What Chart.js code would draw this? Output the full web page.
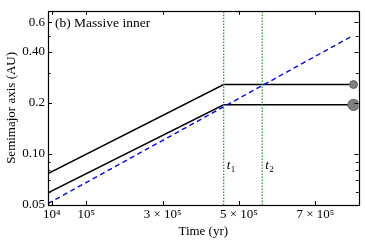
<!DOCTYPE html>
<html>
<head>
<meta charset="utf-8">
<script src="https://cdn.jsdelivr.net/npm/chart.js@4"></script>
<style>
  html, body { margin: 0; padding: 0; background: #fff; }
  #wrap { width: 365px; height: 242px; }
</style>
</head>
<body>
<div id="wrap"><canvas id="orbitChart" width="365" height="242"></canvas></div>
<script>
// --- datos ---
const timeYr = [0, 4.6e5, 8.0e5];
const outerAU = [0.0766, 0.257, 0.257];
const innerAU = [0.059, 0.195, 0.195];

const edgeTime = [0, 7.95e5];
const edgeAU = [0.051, 0.495];

const t1 = 4.6e5;
const t2 = 5.61e5;

const xTicks = [1e4, 1e5, 3e5, 5e5, 7e5];
const xTickLabels = ['10⁴', '10⁵', '3 × 10⁵', '5 × 10⁵', '7 × 10⁵'];
const yTicks = [0.05, 0.1, 0.2, 0.4, 0.6];
const yTickLabels = ['0.05', '0.10', '0.2', '0.40', '0.6'];
const yMinorTicks = [0.06, 0.07, 0.08, 0.09, 0.3, 0.5, 0.7];

const yMin = 0.05, yMax = 0.7;
const xMin = 0, xMax = 8.13e5;

const serif = '"Liberation Serif", "DejaVu Serif", serif';

const toPoints = (xs, ys) => xs.map((x, i) => ({ x: x, y: ys[i] }));

// marco, marcas hacia dentro y textos
const framePlugin = {
    id: 'frame',
    afterDraw(chart) {
        const ctx = chart.ctx;
        const a = chart.chartArea;
        const xs = chart.scales.x;
        const ys = chart.scales.y;
        ctx.save();
        ctx.strokeStyle = '#000';
        ctx.lineWidth = 1;
        ctx.beginPath();
        xTicks.forEach(v => {
            const px = Math.round(xs.getPixelForValue(v)) + 0.5;
            ctx.moveTo(px, a.bottom); ctx.lineTo(px, a.bottom - 4);
            ctx.moveTo(px, a.top); ctx.lineTo(px, a.top + 4);
        });
        yTicks.concat(yMinorTicks).forEach(v => {
            const py = Math.round(ys.getPixelForValue(v)) + 0.5;
            const len = yTicks.includes(v) ? 4 : 2.5;
            ctx.moveTo(a.left, py); ctx.lineTo(a.left + len, py);
            ctx.moveTo(a.right, py); ctx.lineTo(a.right - len, py);
        });
        ctx.stroke();
        ctx.lineWidth = 1.2;
        ctx.strokeRect(Math.round(a.left) + 0.5, Math.round(a.top) + 0.5,
                       Math.round(a.right - a.left), Math.round(a.bottom - a.top));

        // título del panel
        ctx.fillStyle = '#000';
        ctx.font = '13.5px ' + serif;
        ctx.textBaseline = 'alphabetic';
        ctx.textAlign = 'left';
        ctx.fillText('(b) Massive inner', a.left + 7, a.top + 16);

        // etiquetas t1, t2
        [[t1, '1'], [t2, '2']].forEach(([t, sub]) => {
            const px = xs.getPixelForValue(t) + 3;
            const py = 169;
            ctx.font = 'italic 13px ' + serif;
            ctx.fillText('t', px, py);
            const w = ctx.measureText('t').width;
            ctx.font = '9px ' + serif;
            ctx.fillText(sub, px + w + 0.5, py + 3);
        });
        ctx.restore();
    }
};

new Chart(document.getElementById('orbitChart').getContext('2d'), {
    type: 'line',
    data: {
        datasets: [
            {
                label: 't1',
                data: [{ x: t1, y: yMin }, { x: t1, y: yMax }],
                borderColor: '#2ca02c',
                borderWidth: 1.3,
                borderDash: [1.5, 1.5],
                pointRadius: 0
            },
            {
                label: 't2',
                data: [{ x: t2, y: yMin }, { x: t2, y: yMax }],
                borderColor: '#2ca02c',
                borderWidth: 1.3,
                borderDash: [1.5, 1.5],
                pointRadius: 0
            },
            {
                label: 'Borde',
                data: toPoints(edgeTime, edgeAU),
                borderColor: '#0000ff',
                borderWidth: 1.4,
                borderDash: [5, 3.5],
                pointRadius: 0
            },
            {
                label: 'Exterior',
                data: toPoints(timeYr, outerAU),
                borderColor: '#000',
                borderWidth: 1.5,
                pointRadius: [0, 0, 4],
                pointBackgroundColor: '#808080',
                pointBorderColor: '#555',
                pointBorderWidth: 0.8
            },
            {
                label: 'Interior',
                data: toPoints(timeYr, innerAU),
                borderColor: '#000',
                borderWidth: 1.5,
                pointRadius: [0, 0, 5.7],
                pointBackgroundColor: '#808080',
                pointBorderColor: '#555',
                pointBorderWidth: 0.8
            }
        ]
    },
    options: {
        responsive: false,
        animation: false,
        layout: { padding: { top: 5, right: 5, left: 0, bottom: 0 } },
        plugins: {
            legend: { display: false },
            tooltip: { enabled: false }
        },
        scales: {
            x: {
                type: 'linear',
                min: xMin,
                max: xMax,
                grid: { display: false, drawTicks: false },
                border: { display: false },
                afterBuildTicks: (scale) => { scale.ticks = xTicks.map(v => ({ value: v })); },
                afterFit: (scale) => { scale.height = 37; },
                ticks: {
                    autoSkip: false,
                    maxRotation: 0,
                    padding: 2,
                    color: '#000',
                    font: { family: serif, size: 13 },
                    callback: (v) => xTickLabels[xTicks.indexOf(v)]
                },
                title: {
                    display: true,
                    text: 'Time (yr)',
                    color: '#000',
                    font: { family: serif, size: 13 },
                    padding: { top: 0, bottom: 3 }
                }
            },
            y: {
                type: 'logarithmic',
                min: yMin,
                max: yMax,
                grid: { display: false, drawTicks: false },
                border: { display: false },
                afterBuildTicks: (scale) => { scale.ticks = yTicks.map(v => ({ value: v })); },
                afterFit: (scale) => { scale.width = 48; },
                ticks: {
                    autoSkip: false,
                    padding: 3,
                    color: '#000',
                    font: { family: serif, size: 13 },
                    callback: (v) => yTickLabels[yTicks.indexOf(v)]
                },
                title: {
                    display: true,
                    text: 'Semimajor axis (AU)',
                    color: '#000',
                    font: { family: serif, size: 13 },
                    padding: { top: 4, bottom: 0 }
                }
            }
        }
    },
    plugins: [framePlugin]
});
</script>
</body>
</html>
